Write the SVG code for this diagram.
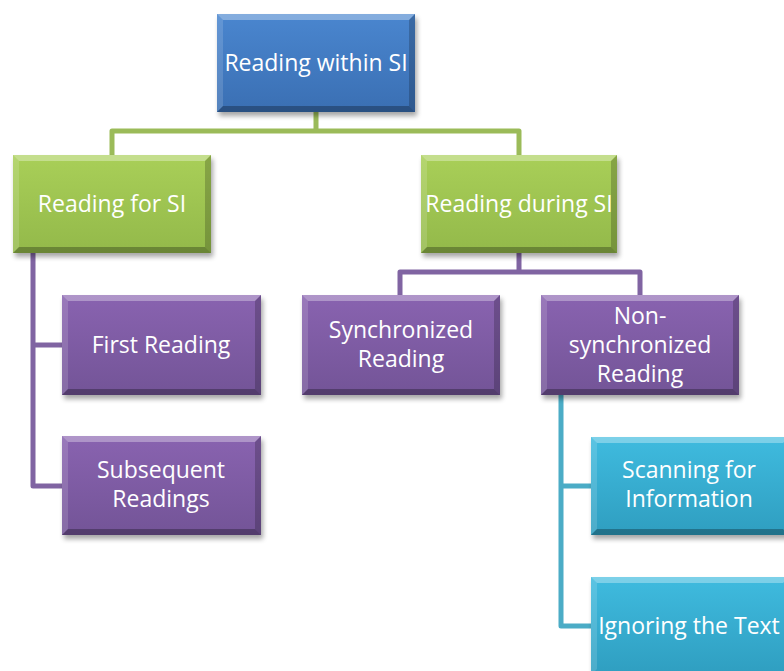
<svg xmlns="http://www.w3.org/2000/svg" width="784" height="671" viewBox="0 0 784 671">
<defs>
<linearGradient id="gBlue" x1="0" y1="0" x2="0" y2="1"><stop offset="0" stop-color="#4a86cf"/><stop offset="1" stop-color="#3a6fb3"/></linearGradient>
<linearGradient id="gGreen" x1="0" y1="0" x2="0" y2="1"><stop offset="0" stop-color="#a9cf58"/><stop offset="1" stop-color="#93b94a"/></linearGradient>
<linearGradient id="gPurple" x1="0" y1="0" x2="0" y2="1"><stop offset="0" stop-color="#8963b0"/><stop offset="1" stop-color="#735497"/></linearGradient>
<linearGradient id="gAqua" x1="0" y1="0" x2="0" y2="1"><stop offset="0" stop-color="#3fbbdf"/><stop offset="1" stop-color="#2f9ec0"/></linearGradient>
<filter id="sh" x="-10%" y="-10%" width="130%" height="140%"><feGaussianBlur stdDeviation="2.5"/></filter>
</defs>
<style>
.t{font-family:"Open Sans","Liberation Sans",sans-serif;font-size:23px;fill:#ffffff;text-anchor:middle}
.c{fill:none;stroke-width:5;stroke-linejoin:round}
.sh{fill:#000;opacity:0.35;filter:url(#sh)}
.bt{fill:#fff;opacity:0.32}
.bl{fill:#fff;opacity:0.14}
.bb{fill:#000;opacity:0.28}
.br{fill:#000;opacity:0.2}
</style>
<g id="connectors">
<path class="c" stroke="#9bbb59" d="M316 112 V131 M112 155 V131 H519 V155"/>
<path class="c" stroke="#8064a2" d="M33 253 V486 H63 M33 345 H63"/>
<path class="c" stroke="#8064a2" d="M519 253 V272 M400 295 V272 H640 V295"/>
<path class="c" stroke="#4bacc6" d="M561 395 V626 H591 M561 486 H591"/>
</g>
<g id="n-top">
<rect class="sh" x="219" y="18" width="198" height="98"/>
<rect x="217" y="14" width="198" height="98" fill="url(#gBlue)"/>
<polygon class="bt" points="217,14 415,14 409,20 223,20"/>
<polygon class="bl" points="217,14 223,20 223,106 217,112"/>
<polygon class="bb" points="217,112 415,112 409,106 223,106"/>
<polygon class="br" points="415,14 415,112 409,106 409,20"/>
<text class="t" x="316" y="71">Reading within SI</text>
</g>
<g id="n-for">
<rect class="sh" x="15" y="159" width="198" height="98"/>
<rect x="13" y="155" width="198" height="98" fill="url(#gGreen)"/>
<polygon class="bt" points="13,155 211,155 205,161 19,161"/>
<polygon class="bl" points="13,155 19,161 19,247 13,253"/>
<polygon class="bb" points="13,253 211,253 205,247 19,247"/>
<polygon class="br" points="211,155 211,253 205,247 205,161"/>
<text class="t" x="112" y="212">Reading for SI</text>
</g>
<g id="n-during">
<rect class="sh" x="423" y="159" width="196" height="98"/>
<rect x="421" y="155" width="196" height="98" fill="url(#gGreen)"/>
<polygon class="bt" points="421,155 617,155 611,161 427,161"/>
<polygon class="bl" points="421,155 427,161 427,247 421,253"/>
<polygon class="bb" points="421,253 617,253 611,247 427,247"/>
<polygon class="br" points="617,155 617,253 611,247 611,161"/>
<text class="t" x="519" y="212">Reading during SI</text>
</g>
<g id="n-first">
<rect class="sh" x="64" y="299" width="199" height="100"/>
<rect x="62" y="295" width="199" height="100" fill="url(#gPurple)"/>
<polygon class="bt" points="62,295 261,295 255,301 68,301"/>
<polygon class="bl" points="62,295 68,301 68,389 62,395"/>
<polygon class="bb" points="62,395 261,395 255,389 68,389"/>
<polygon class="br" points="261,295 261,395 255,389 255,301"/>
<text class="t" x="161" y="353">First Reading</text>
</g>
<g id="n-subsequent">
<rect class="sh" x="64" y="440" width="199" height="99"/>
<rect x="62" y="436" width="199" height="99" fill="url(#gPurple)"/>
<polygon class="bt" points="62,436 261,436 255,442 68,442"/>
<polygon class="bl" points="62,436 68,442 68,529 62,535"/>
<polygon class="bb" points="62,535 261,535 255,529 68,529"/>
<polygon class="br" points="261,436 261,535 255,529 255,442"/>
<text class="t" x="161" y="478">Subsequent</text>
<text class="t" x="161" y="507">Readings</text>
</g>
<g id="n-sync">
<rect class="sh" x="304" y="299" width="198" height="100"/>
<rect x="302" y="295" width="198" height="100" fill="url(#gPurple)"/>
<polygon class="bt" points="302,295 500,295 494,301 308,301"/>
<polygon class="bl" points="302,295 308,301 308,389 302,395"/>
<polygon class="bb" points="302,395 500,395 494,389 308,389"/>
<polygon class="br" points="500,295 500,395 494,389 494,301"/>
<text class="t" x="401" y="338">Synchronized</text>
<text class="t" x="401" y="367">Reading</text>
</g>
<g id="n-nonsync">
<rect class="sh" x="543" y="299" width="198" height="100"/>
<rect x="541" y="295" width="198" height="100" fill="url(#gPurple)"/>
<polygon class="bt" points="541,295 739,295 733,301 547,301"/>
<polygon class="bl" points="541,295 547,301 547,389 541,395"/>
<polygon class="bb" points="541,395 739,395 733,389 547,389"/>
<polygon class="br" points="739,295 739,395 733,389 733,301"/>
<text class="t" x="640" y="324">Non-</text>
<text class="t" x="640" y="353">synchronized</text>
<text class="t" x="640" y="382">Reading</text>
</g>
<g id="n-scanning">
<rect class="sh" x="593" y="441" width="198" height="98"/>
<rect x="591" y="437" width="198" height="98" fill="url(#gAqua)"/>
<polygon class="bt" points="591,437 789,437 783,443 597,443"/>
<polygon class="bl" points="591,437 597,443 597,529 591,535"/>
<polygon class="bb" points="591,535 789,535 783,529 597,529"/>
<text class="t" x="689" y="478">Scanning for</text>
<text class="t" x="689" y="507">Information</text>
</g>
<g id="n-ignoring">
<rect class="sh" x="593" y="581" width="198" height="98"/>
<rect x="591" y="577" width="198" height="98" fill="url(#gAqua)"/>
<polygon class="bt" points="591,577 789,577 783,583 597,583"/>
<polygon class="bl" points="591,577 597,583 597,669 591,675"/>
<text class="t" x="689" y="634">Ignoring the Text</text>
</g>
</svg>
